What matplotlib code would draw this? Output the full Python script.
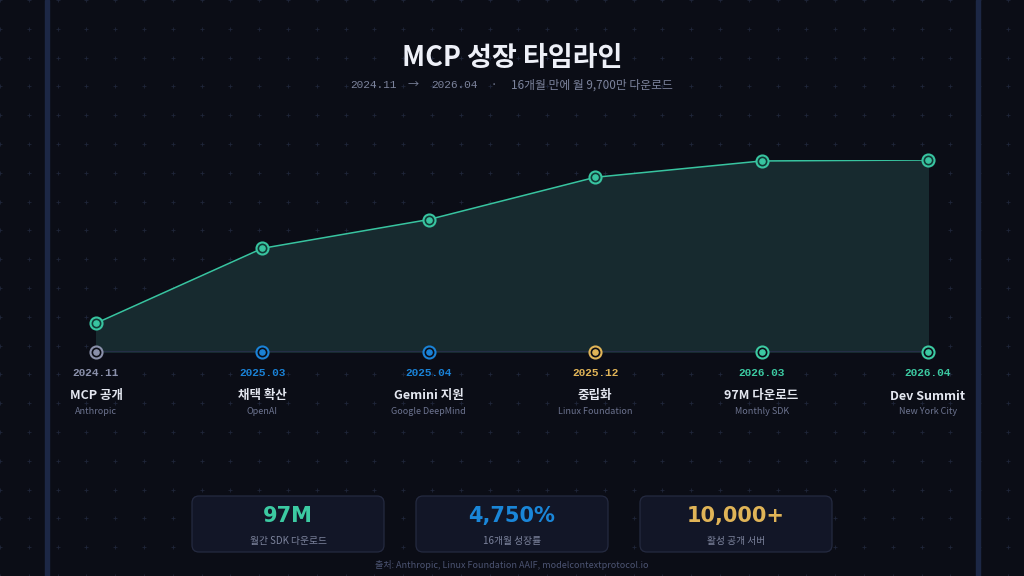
"""
MCP growth timeline - dark card style figure
"""

import numpy as np
import matplotlib.pyplot as plt
from matplotlib.patches import FancyBboxPatch, Rectangle

KR = ["Noto Sans CJK KR", "DejaVu Sans"]
MONO = ["Liberation Mono", "DejaVu Sans Mono"]
NUM = ["DejaVu Sans"]

# data
dates = ["2024.11", "2025.03", "2025.04", "2025.12", "2026.03", "2026.04"]
events = ["MCP 공개", "채택 확산", "Gemini 지원", "중립화", "97M 다운로드", "Dev Summit"]
sources = ["Anthropic", "OpenAI", "Google DeepMind", "Linux Foundation", "Monthly SDK", "New York City"]
growth = [15, 54, 69, 91, 99.5, 100]   # relative growth index
date_colors = ["#8a90aa", "#1a82d6", "#1a82d6", "#e0b457", "#3ccaa2", "#3ccaa2"]

stat_values = ["97M", "4,750%", "10,000+"]
stat_labels = ["월간 SDK 다운로드", "16개월 성장률", "활성 공개 서버"]
stat_colors = ["#3ccaa2", "#1a86d8", "#e0b457"]

BG = "#0b0d16"
TEAL = "#38c4a0"
W, H = 1024, 576

fig = plt.figure(figsize=(W / 100, H / 100), dpi=100, facecolor=BG)

# background layer in pixel coordinates
bg = fig.add_axes([0, 0, 1, 1])
bg.set_xlim(0, W)
bg.set_ylim(H, 0)
bg.axis("off")
bg.set_facecolor(BG)

# dotted grid
gx, gy = np.meshgrid(np.arange(0, W + 1, 28.8), np.arange(0, H + 1, 28.8))
bg.scatter(gx.ravel(), gy.ravel(), marker="+", s=5, linewidths=0.6, color="#1f2539", zorder=1)

# side rails
bg.add_patch(Rectangle((45, 0), 4, H, color="#1c2745", zorder=2))
bg.add_patch(Rectangle((976, 0), 4, H, color="#1c2745", zorder=2))

# title + subtitle
bg.text(512, 58, "MCP 성장 타임라인", family=KR, fontsize=19.5, fontweight="bold",
        color="#eef0f8", ha="center", va="center")
bg.text(373, 85, "2024.11", family=MONO, fontsize=8, color="#7c839c", ha="center", va="center")
bg.text(413, 85, "→", family=KR, fontsize=8, color="#7c839c", ha="center", va="center")
bg.text(454, 85, "2026.04", family=MONO, fontsize=8, color="#7c839c", ha="center", va="center")
bg.text(494, 85, "·", family=KR, fontsize=8, color="#7c839c", ha="center", va="center")
bg.text(511, 85, "16개월 만에 월 9,700만 다운로드", family=KR, fontsize=8.5, color="#7c839c",
        ha="left", va="center")

# main chart axis
x = np.arange(len(dates))
ax = fig.add_axes([96 / W, 1 - 352 / H, (928 - 96) / W, 192 / H])
ax.set_xlim(0, len(dates) - 1)
ax.set_ylim(0, 100)
ax.axis("off")
ax.patch.set_alpha(0)

ax.fill_between(x, 0, growth, color="#172a2f", zorder=2)
ax.plot(x, growth, color=TEAL, linewidth=1.1, zorder=3)
ax.axhline(0, color="#272f4a", linewidth=2, zorder=3)

# markers on the curve
ax.scatter(x, growth, s=75, facecolor="#123a36", edgecolor=TEAL, linewidths=1.5,
           zorder=5, clip_on=False)
ax.scatter(x, growth, s=14, color=TEAL, zorder=6, clip_on=False)

# markers on the baseline
for i in range(len(dates)):
    ax.scatter(x[i], 0, s=75, facecolor=BG, edgecolor=date_colors[i], linewidths=1.5,
               zorder=5, clip_on=False)
    ax.scatter(x[i], 0, s=14, color=date_colors[i], zorder=6, clip_on=False)

# milestone labels
for i in range(len(dates)):
    px = 96 + i * (928 - 96) / (len(dates) - 1)
    bg.text(px, 373, dates[i], family=MONO, fontsize=8, fontweight="bold",
            color=date_colors[i], ha="center", va="center")
    bg.text(px, 396, events[i], family=KR, fontsize=9, fontweight="bold",
            color="#e4e7f0", ha="center", va="center")
    bg.text(px, 411, sources[i], family=KR, fontsize=6.5, color="#6c738f",
            ha="center", va="center")

# stat cards
for i in range(3):
    left = 192 + i * 224
    bg.add_patch(FancyBboxPatch((left, 496), 192, 56, boxstyle="round,pad=0,rounding_size=7",
                                facecolor="#121627", edgecolor="#242a40", linewidth=0.9, zorder=3))
    bg.text(left + 96, 516, stat_values[i], family=NUM, fontsize=15, fontweight="bold",
            color=stat_colors[i], ha="center", va="center", zorder=4)
    bg.text(left + 96, 541, stat_labels[i], family=KR, fontsize=7, color="#7c839c",
            ha="center", va="center", zorder=4)

bg.text(512, 565, "출처: Anthropic, Linux Foundation AAIF, modelcontextprotocol.io", family=KR,
        fontsize=6.5, color="#4c5472", ha="center", va="center")

fig.savefig("out.png", dpi=100, facecolor=BG)
